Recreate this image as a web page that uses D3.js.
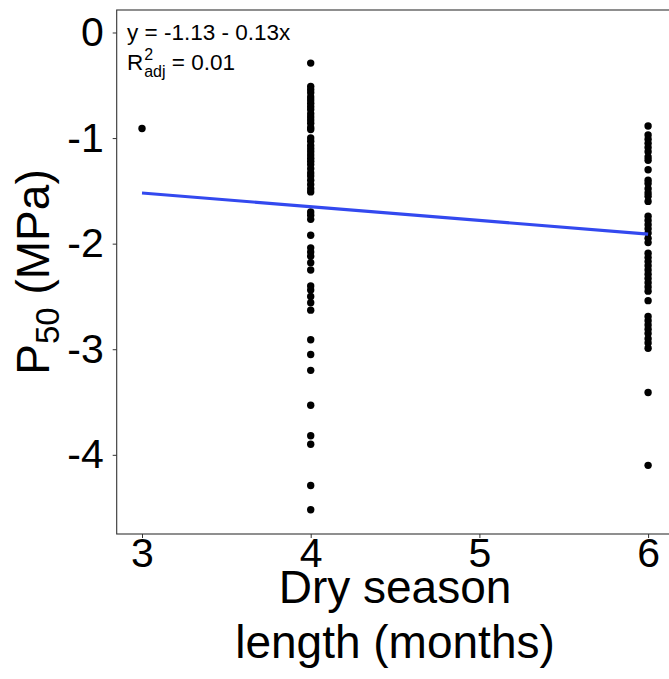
<!DOCTYPE html>
<html>
<head>
<meta charset="utf-8">
<script src="https://cdn.jsdelivr.net/npm/d3@7"></script>
<style>
  body { margin: 0; background: #fff; }
  svg { display: block; font-family: "Liberation Sans", Arial, sans-serif; }
  .axis path, .axis line { stroke: #333; }
  .axis text { fill: #000; font-size: 41px; }
</style>
</head>
<body>
<div id="chart"></div>
<script>
// Dry season length (months) for each point
const xThree = [3];
const yThree = [-0.91];

// P50 values (MPa) at 4 months
const yFour = [-0.29, -0.51, -0.54, -0.57, -0.61, -0.64, -0.67, -0.70, -0.73, -0.77,
  -0.80, -0.83, -0.86, -0.90, -0.92, -1.00, -1.03, -1.07, -1.10, -1.13, -1.16, -1.19,
  -1.22, -1.25, -1.29, -1.33, -1.36, -1.40, -1.44, -1.48, -1.51, -1.70, -1.73, -1.77,
  -1.92, -2.04, -2.08, -2.12, -2.18, -2.25, -2.40, -2.44, -2.50, -2.56, -2.63, -2.91,
  -3.05, -3.20, -3.53, -3.82, -3.90, -4.29, -4.52];

// P50 values (MPa) at 6 months
const ySix = [-0.885, -0.97, -1.01, -1.05, -1.09, -1.13, -1.18, -1.21, -1.30, -1.40,
  -1.43, -1.48, -1.52, -1.55, -1.60, -1.74, -1.78, -1.82, -1.86, -1.90, -1.95, -1.99,
  -2.09, -2.13, -2.17, -2.21, -2.25, -2.29, -2.33, -2.37, -2.41, -2.45, -2.54, -2.69,
  -2.73, -2.77, -2.81, -2.85, -2.90, -2.94, -2.99, -3.41, -4.10];

// fitted line y = -1.13 - 0.13x
const intercept = -1.13;
const slope = -0.13;
const fitX = [3, 6];

const xTicks = [3, 4, 5, 6];
const yTicks = [0, -1, -2, -3, -4];

// Sets the dimensions of the chart.
const w = 669;
const h = 679;
const padLeft = 116.7;
const padTop = 10;
const plotW = 556.7;
const plotH = 524;

let points = [];
xThree.forEach((x, i) => points.push({ x: x, y: yThree[i] }));
yFour.forEach(y => points.push({ x: 4, y: y }));
ySix.forEach(y => points.push({ x: 6, y: y }));

const svg = d3.select("#chart")
  .append("svg")
  .attr("width", w)
  .attr("height", h);

const xScale = d3.scaleLinear()
  .domain([2.85, 6.15])
  .range([padLeft, padLeft + plotW]);

const yScale = d3.scaleLinear()
  .domain([-4.75, 0.213])
  .range([padTop + plotH, padTop]);

// panel border
svg.append("rect")
  .attr("x", padLeft)
  .attr("y", padTop)
  .attr("width", plotW)
  .attr("height", plotH)
  .attr("fill", "none")
  .attr("stroke", "#333")
  .attr("stroke-width", 1.1);

// Draws the axis onto the chart (plain hyphen for the minus sign).
svg.append("g")
  .attr("class", "axis")
  .attr("transform", "translate(0," + (padTop + plotH) + ")")
  .call(d3.axisBottom(xScale).tickValues(xTicks).tickFormat(d => String(d))
    .tickSize(4).tickPadding(0).tickSizeOuter(0))
  .call(g => g.select(".domain").remove());

svg.append("g")
  .attr("class", "axis")
  .attr("transform", "translate(" + padLeft + ",0)")
  .call(d3.axisLeft(yScale).tickValues(yTicks).tickFormat(d => String(d))
    .tickSize(4).tickPadding(9).tickSizeOuter(0))
  .call(g => g.select(".domain").remove());

// points
svg.selectAll("circle.dot")
  .data(points)
  .enter()
  .append("circle")
  .attr("class", "dot")
  .attr("cx", d => xScale(d.x))
  .attr("cy", d => yScale(d.y))
  .attr("r", 3.7)
  .attr("fill", "#000");

// regression line
const line = d3.line()
  .x(d => xScale(d))
  .y(d => yScale(intercept + slope * d));

svg.append("path")
  .datum(fitX)
  .attr("d", line)
  .attr("fill", "none")
  .attr("stroke", "#3349ef")
  .attr("stroke-width", 3.2);

// equation annotation
svg.append("text")
  .attr("x", 127)
  .attr("y", 40)
  .style("font-size", "22.5px")
  .text("y = -1.13 - 0.13x");

const r2 = svg.append("text")
  .attr("x", 127)
  .attr("y", 70)
  .style("font-size", "22.5px");
r2.append("tspan").text("R");
r2.append("tspan").attr("dx", 1).attr("dy", -10).style("font-size", "16px").text("2");
r2.append("tspan").attr("dx", -9).attr("dy", 17).style("font-size", "16px").text("adj");
r2.append("tspan").attr("dy", -7).text(" = 0.01");

// axis titles
const yTitle = svg.append("text")
  .attr("transform", "translate(49," + (padTop + plotH / 2) + ") rotate(-90)")
  .attr("text-anchor", "middle")
  .style("font-size", "46px");
yTitle.append("tspan").text("P");
yTitle.append("tspan").attr("dy", 10).style("font-size", "33px").text("50");
yTitle.append("tspan").attr("dy", -10).text(" (MPa)");

svg.append("text")
  .attr("x", 395)
  .attr("y", 603)
  .attr("text-anchor", "middle")
  .style("font-size", "46px")
  .text("Dry season");

svg.append("text")
  .attr("x", 395)
  .attr("y", 658)
  .attr("text-anchor", "middle")
  .style("font-size", "46px")
  .text("length (months)");
</script>
</body>
</html>
